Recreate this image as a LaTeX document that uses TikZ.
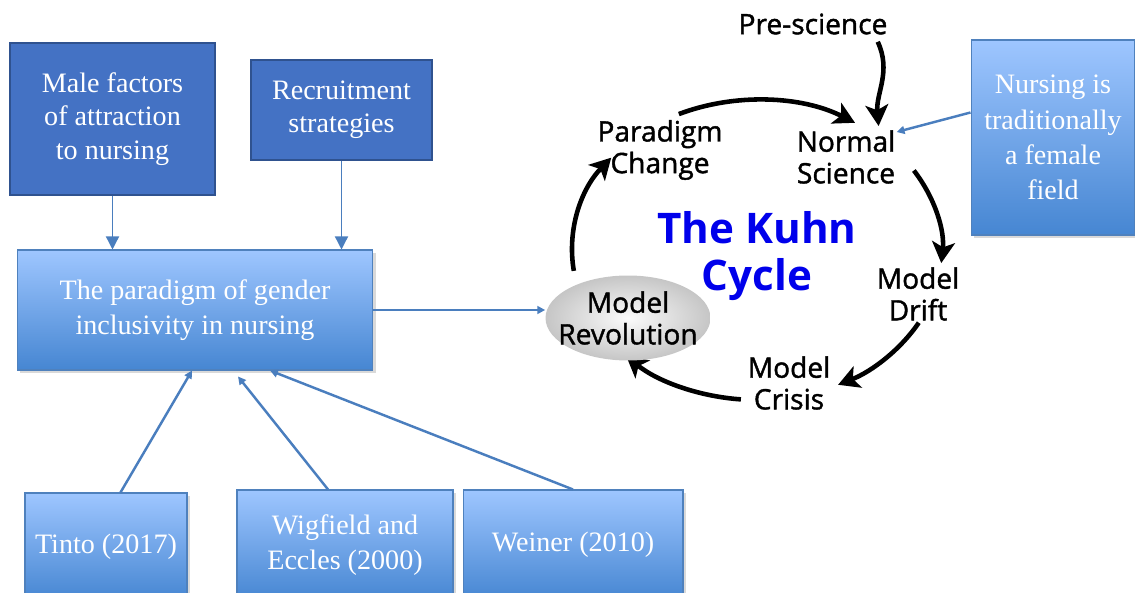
\documentclass[tikz,border=0pt]{standalone}
\usepackage{fontspec}
\setmainfont{Liberation Serif}
\newfontfamily\kuhnfont{Open Sans}[FakeBold=1.4]
\newfontfamily\kuhnbold{Open Sans}
\usetikzlibrary{shapes.geometric, arrows.meta, calc, shadows}
\definecolor{boxDark}    {RGB}{ 68,114,196}
\definecolor{boxDarkLine}{RGB}{ 47, 82,143}
\definecolor{boxTop}     {RGB}{158,198,255}
\definecolor{boxBot}     {RGB}{ 70,134,210}
\definecolor{boxLine}    {RGB}{ 79,129,189}
\definecolor{linkBlue}   {RGB}{ 74,126,190}
\definecolor{kuhnBlue}   {RGB}{  0,  0,235}

\begin{document}
\begin{tikzpicture}[x=0.02cm, y=0.02cm,
  dark/.style={rectangle, fill=boxDark, draw=boxDarkLine, line width=1.2pt,
    text=white, align=center, font=\fontsize{16}{19}\selectfont},
  grad/.style={rectangle, top color=boxTop, bottom color=boxBot,
    draw=boxLine, line width=0.6pt, text=white, align=center,
    font=\fontsize{16}{20}\selectfont,
    drop shadow={shadow xshift=1.5pt, shadow yshift=-1.5pt, opacity=0.3}},
  lbl/.style={inner sep=0pt, align=center,
    font=\kuhnfont\fontsize{16}{18}\selectfont},
  link/.style={draw=linkBlue, line width=0.8pt,
    -{Triangle[length=7.5pt, width=7.5pt]}},
  feed/.style={draw=linkBlue, line width=1.4pt,
    -{Triangle[length=4.5pt, width=4.5pt]}},
  kuhn/.style={line width=2.6pt,
    -{Stealth[length=12pt, width=13pt, inset=3pt]}},
  ring/.style={kuhn, x radius=3.7cm, y radius=3cm},
]
\useasboundingbox (0,0) rectangle (1135,592);

%% ── Left column ─────────────────────────────────────────────────────────────
\node[dark, minimum width=4.1cm,  minimum height=3.04cm] (male)    at (112.5,473) {Male factors\\of attraction\\to nursing};
\node[dark, minimum width=3.62cm, minimum height=2.0cm]  (recruit) at (341.5,482) {Recruitment\\strategies};
\node[grad, minimum width=7.12cm, minimum height=2.4cm]  (paradigm) at (195,282)  {The paradigm of gender\\inclusivity in nursing};

%% ── Bottom row ──────────────────────────────────────────────────────────────
\node[grad, minimum width=3.24cm, minimum height=2.14cm] (tinto)    at (106,45.5) {Tinto (2017)};
\node[grad, minimum width=4.32cm, minimum height=2.2cm]  (wigfield) at (345,47)   {Wigfield and\\Eccles (2000)};
\node[grad, minimum width=4.4cm,  minimum height=2.2cm]  (weiner)   at (573,47)   {Weiner (2010)};

%% ── Right box ───────────────────────────────────────────────────────────────
\node[grad, minimum width=3.28cm, minimum height=3.9cm] (nursing) at (1053,454.5) {Nursing is\\traditionally\\a female\\field};

%% ── Kuhn cycle ──────────────────────────────────────────────────────────────
\coordinate (kc) at (757,342);
\node[lbl] (pre)    at (813,568) {Pre-science};
\node[lbl] (change) at (660,442) {Paradigm\\Change};
\node[lbl] (normal) at (846,435) {Normal\\Science};
\node[lbl] (drift)  at (918,298) {Model\\Drift};
\node[lbl] (crisis) at (789,209) {Model\\Crisis};
\node[lbl, text=kuhnBlue, font=\kuhnbold\bfseries\fontsize{24}{27}\selectfont]
  (title) at (757,336) {The Kuhn\\Cycle};

\draw[ring] ($(kc)+(115:3.7cm and 3cm)$)  arc[start angle=115,  end angle=58];
\draw[ring] ($(kc)+(32:3.7cm and 3cm)$)   arc[start angle=32,   end angle=-5];
\draw[ring] ($(kc)+(-29:3.7cm and 3cm)$)  arc[start angle=-29,  end angle=-64];
\draw[ring] ($(kc)+(-95:3.7cm and 3cm)$)  arc[start angle=-95,  end angle=-135];
\draw[ring] ($(kc)+(-172:3.7cm and 3cm)$) arc[start angle=-172, end angle=-218];
\draw[kuhn] ($(pre.south east)+(-10,-7)$) to[out=-65, in=95] ($(normal.north east)+(-17,4)$);

\node[ellipse, shading=radial, inner color=gray!3, outer color=gray!45,
      lbl, inner xsep=-7pt, inner ysep=0pt,
      minimum width=3.3cm, minimum height=1.7cm]
  (revol) at (628,274) {Model\\Revolution};

%% ── Links ───────────────────────────────────────────────────────────────────
\draw[link] (male.south)    -- (male.south |- paradigm.north);
\draw[link] (recruit.south) -- (recruit.south |- paradigm.north);
\draw[feed] (paradigm.east) -- (paradigm.east -| revol.west);
\draw[feed] (tinto.75)      -- ($(paradigm.south)+(-3,0)$);
\draw[feed] (wigfield.107)  -- ($(paradigm.south)+(43,-6)$);
\draw[feed] (weiner.north)  -- ($(paradigm.south)+(75,0)$);
\draw[feed] ($(nursing.west)+(0,25)$) -- ($(normal.east)+(1,25)$);

\end{tikzpicture}
\end{document}
